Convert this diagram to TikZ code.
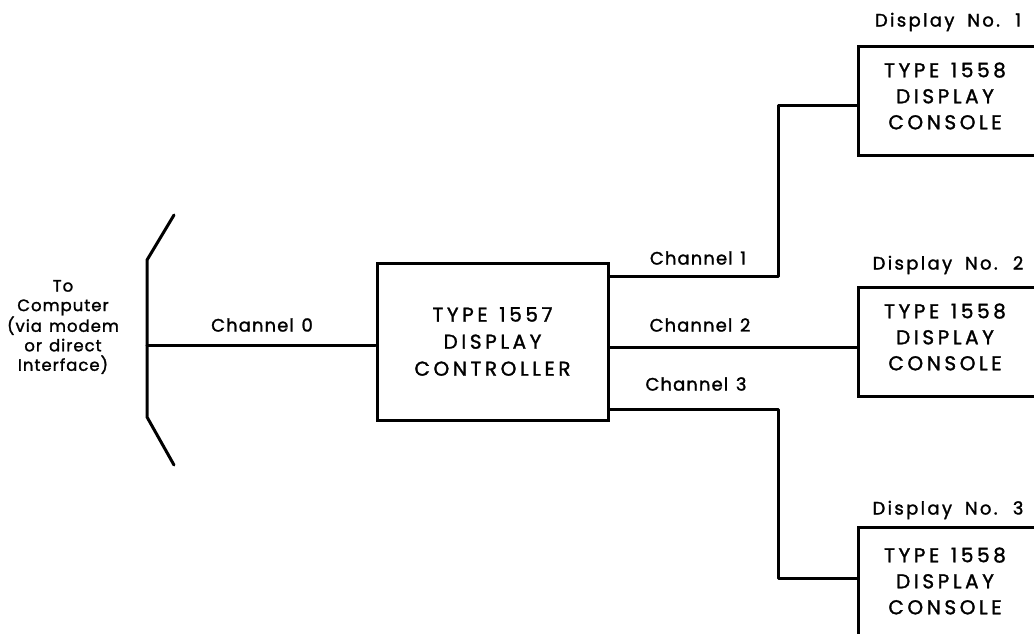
\documentclass[tikz,border=0pt]{standalone}
\usepackage{fontspec}
\setmainfont{Poppins}[LetterSpace=6,FakeBold=1.5,WordSpace=1.3]
\newfontfamily\boxfont{Poppins}[LetterSpace=18,FakeBold=1.5,WordSpace=1.3]
\newfontfamily\dispfont{Poppins}[LetterSpace=13,FakeBold=1.5,WordSpace=1.8]
\usetikzlibrary{positioning}

\tikzset{
  wire/.style={line width=3pt,line cap=round,line join=round},
  unitbox/.style={draw,line width=3pt,minimum width=231pt,minimum height=157pt,
    font=\boxfont\fontsize{20}{27}\selectfont,align=center},
  consolebox/.style={draw,line width=3pt,minimum width=220pt,minimum height=109pt,
    anchor=north west},
  consoletext/.style={font=\boxfont\fontsize{20}{26}\selectfont,align=center},
  chlabel/.style={font=\fontsize{18}{20}\selectfont},
  displabel/.style={font=\dispfont\fontsize{18}{20}\selectfont},
}

\begin{document}
\begin{tikzpicture}[x=1pt,y=-1pt]
  \useasboundingbox (0,0) rectangle (1034,634);

  % computer side bracket
  \coordinate (btop) at (147,260);
  \coordinate (bbot) at (147,417);
  \coordinate (cin) at (147,345);
  \draw[wire] (174,215) -- (btop) -- (bbot) -- (174,465);
  \node[align=center,font=\fontsize{16.5}{19.5}\selectfont] (comp) at (63,327)
    {To\\Computer\\(via modem\\or direct\\Interface)};

  % controller
  \node[unitbox] (ctrl) at (492.5,341.5) {TYPE 1557\\DISPLAY\\CONTROLLER};

  % display consoles
  \node[consolebox] (d1) at (857,45) {};
  \node[consoletext] (t1) at ([xshift=88pt,yshift=5pt]d1.west) {TYPE 1558\\DISPLAY\\CONSOLE};
  \node[displabel] (n1) at (948,22) {Display No. 1};

  \node[consolebox] (d2) at (857,286) {};
  \node[consoletext] (t2) at ([xshift=88pt,yshift=5pt]d2.west) {TYPE 1558\\DISPLAY\\CONSOLE};
  \node[displabel] (n2) at (948,265) {Display No. 2};

  \node[consolebox] (d3) at (857,526) {};
  \node[consoletext] (t3) at ([xshift=88pt,yshift=1pt]d3.west) {TYPE 1558\\DISPLAY\\CONSOLE};
  \node[displabel] (n3) at (948,510) {Display No. 3};

  % channels
  \draw[wire] (cin) -- (cin -| ctrl.west);
  \node[chlabel] (c0) at (262,325) {Channel 0};

  \draw[wire] ([yshift=-15pt]ctrl.north east)
    -| ([xshift=-79pt,yshift=-4.5pt]d1.west) -- ([yshift=-4.5pt]d1.west);
  \node[chlabel] (c1) at (698,258) {Channel 1};

  \draw[wire] ([yshift=-5.5pt]ctrl.east) -- ([yshift=-5.5pt]ctrl.east -| d2.west);
  \node[chlabel] (c2) at (700,325) {Channel 2};

  \draw[wire] ([yshift=12pt]ctrl.south east)
    -| ([xshift=-79pt,yshift=3.5pt]d3.west) -- ([yshift=3.5pt]d3.west);
  \node[chlabel] (c3) at (696,384) {Channel 3};
\end{tikzpicture}
\end{document}
